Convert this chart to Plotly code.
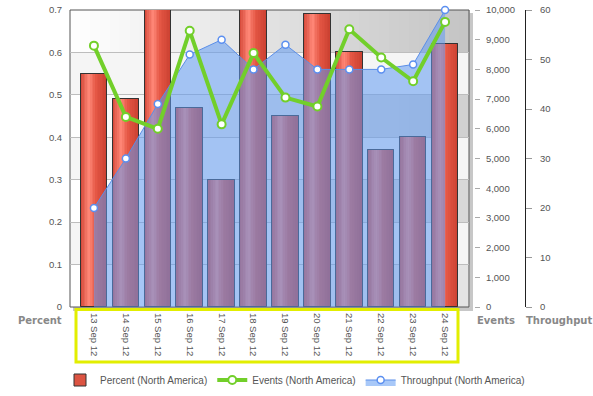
import plotly.graph_objects as go

# ---------------- data ----------------
dates = ["13 Sep 12", "14 Sep 12", "15 Sep 12", "16 Sep 12", "17 Sep 12", "18 Sep 12",
         "19 Sep 12", "20 Sep 12", "21 Sep 12", "22 Sep 12", "23 Sep 12", "24 Sep 12"]
percent = [0.55, 0.49, 0.70, 0.47, 0.30, 0.70, 0.45, 0.69, 0.60, 0.37, 0.40, 0.62]
events = [8800, 6400, 6000, 9300, 6150, 8550, 7050, 6750, 9350, 8400, 7600, 9600]
throughput = [20, 30, 41, 51, 54, 48, 53, 48, 48, 48, 49, 60]

percent_ticks = [0, 0.1, 0.2, 0.3, 0.4, 0.5, 0.6, 0.7]
events_ticks = [0, 1000, 2000, 3000, 4000, 5000, 6000, 7000, 8000, 9000, 10000]
throughput_ticks = [0, 10, 20, 30, 40, 50, 60]

# ---------------- layout geometry (pixels) ----------------
W, H = 593, 396
ML, MR, MT, MB = 70, 20, 10, 89
PW = W - ML - MR          # paper width
PH = H - MT - MB          # paper height
PLOT_RIGHT = 469
xdom = (PLOT_RIGHT - ML) / PW


def px_x(p):
    return (p - ML) / PW


def px_y(p):
    return (H - MB - p) / PH


BAR_W = 0.83
TICK_FONT = dict(family="Liberation Sans, Arial, sans-serif", size=9.5, color="#555555")
TITLE_FONT = dict(family="DejaVu Sans, Verdana, sans-serif", size=10, color="#888888")

fig = go.Figure()

# ---- Percent bars (base + horizontal gradient stripes + border) ----
fig.add_trace(go.Bar(
    x=dates, y=percent, name="Percent (North America)", width=BAR_W,
    marker=dict(color="#dc5442", line=dict(color="#333333", width=1)),
    legendrank=1, hoverinfo="skip"))

ctrl = [(0.0, (212, 70, 55)), (0.33, (255, 136, 120)), (0.6, (228, 86, 68)), (1.0, (202, 64, 48))]


def grad_color(u):
    for (u0, c0), (u1, c1) in zip(ctrl[:-1], ctrl[1:]):
        if u0 <= u <= u1:
            t = (u - u0) / (u1 - u0)
            return "rgb(%d,%d,%d)" % tuple(round(a + (b - a) * t) for a, b in zip(c0, c1))
    return "rgb(%d,%d,%d)" % ctrl[-1][1]


K = 16
sw = BAR_W / K
for i in range(K):
    u = (i + 0.5) / K
    fig.add_trace(go.Bar(
        x=dates, y=percent, width=sw * 1.08 if i < K - 1 else sw,
        offset=-BAR_W / 2 + i * sw,
        marker=dict(color=grad_color(u), line=dict(width=0)),
        showlegend=False, hoverinfo="skip"))

fig.add_trace(go.Bar(
    x=dates, y=percent, width=BAR_W,
    marker=dict(color="rgba(0,0,0,0)", line=dict(color="#333333", width=1)),
    showlegend=False, hoverinfo="skip"))

# ---- Throughput area (drawn above bars) ----
fig.add_trace(go.Scatter(
    x=dates, y=throughput, yaxis="y2", name="Throughput (North America)",
    mode="lines+markers", fill="tozeroy", fillcolor="rgba(94,153,242,0.54)",
    line=dict(color="#5a8ee8", width=1),
    marker=dict(size=7, color="white", line=dict(color="#5b8ff0", width=1.5)),
    cliponaxis=False, legendrank=3))

# ---- Events line ----
fig.add_trace(go.Scatter(
    x=dates, y=events, yaxis="y3", name="Events (North America)",
    mode="lines+markers",
    line=dict(color="#72cf2a", width=4),
    marker=dict(size=8, color="white", line=dict(color="#72cf2a", width=2)),
    cliponaxis=False, legendrank=2))

# ---------------- background bands & decoration ----------------
shapes = []
# drop shadow
shapes.append(dict(type="rect", xref="paper", yref="paper",
                   x0=px_x(ML + 3), x1=px_x(PLOT_RIGHT + 4), y0=px_y(H - MB + 4), y1=px_y(MT + 3),
                   fillcolor="rgba(0,0,0,0.22)", line=dict(width=0), layer="below"))
right_gray = {0: 228, 2: 216, 4: 208, 6: 196}
N = 40
for k in range(7):
    y0, y1 = k * 0.1, (k + 1) * 0.1
    if k in right_gray:
        g = right_gray[k]
        for j in range(N):
            t = (j + 0.5) / N
            c = round(255 - (255 - g) * t)
            shapes.append(dict(type="rect", xref="x domain", yref="y",
                               x0=j / N, x1=(j + 1) / N + 0.002, y0=y0, y1=y1,
                               fillcolor="rgb(%d,%d,%d)" % (c, c, c), line=dict(width=0), layer="below"))
    else:
        shapes.append(dict(type="rect", xref="x domain", yref="y", x0=0, x1=1, y0=y0, y1=y1,
                           fillcolor="#f5f5f5", line=dict(width=0), layer="below"))
# plot border
shapes.append(dict(type="rect", xref="x domain", yref="y domain", x0=0, x1=1, y0=0, y1=1,
                   line=dict(color="#555555", width=1), layer="below"))
# yellow highlight around category labels
shapes.append(dict(type="rect", xref="paper", yref="paper",
                   x0=px_x(76), x1=px_x(458), y0=px_y(362), y1=px_y(309.5),
                   line=dict(color="#e2ee00", width=3), layer="above"))

annotations = [
    dict(text="<b>Percent</b>", xref="paper", yref="paper", x=px_x(64), y=px_y(320),
         xanchor="right", yanchor="middle", showarrow=False, font=TITLE_FONT),
    dict(text="<b>Events</b>", xref="paper", yref="paper", x=px_x(475), y=px_y(320),
         xanchor="left", yanchor="middle", showarrow=False, font=TITLE_FONT),
    dict(text="<b>Throughput</b>", xref="paper", yref="paper", x=px_x(524), y=px_y(320),
         xanchor="left", yanchor="middle", showarrow=False, font=TITLE_FONT),
]

fig.update_layout(
    width=W, height=H,
    margin=dict(l=ML, r=MR, t=MT, b=MB, autoexpand=False),
    paper_bgcolor="white", plot_bgcolor="white",
    barmode="overlay", bargap=0,
    showlegend=True,
    legend=dict(orientation="h", x=px_x(295), xanchor="center", y=px_y(380), yanchor="middle",
                font=dict(family="Liberation Sans, Arial, sans-serif", size=10, color="#555555"),
                itemwidth=30, bgcolor="rgba(0,0,0,0)", tracegroupgap=0),
    xaxis=dict(type="category", categoryorder="array", categoryarray=dates,
               domain=[0, xdom], range=[-0.75, len(dates) - 0.25],
               showgrid=False, zeroline=False, showline=False,
               ticks="outside", ticklen=3, tickcolor="rgba(0,0,0,0)",
               tickangle=90, tickfont=TICK_FONT, automargin=False, fixedrange=True),
    yaxis=dict(range=[0, 0.7], tickvals=percent_ticks, ticktext=[("%g" % v) for v in percent_ticks],
               showgrid=True, gridcolor="#bdbdbd", gridwidth=1, zeroline=False,
               showline=False, ticks="outside", ticklen=5, tickcolor="rgba(0,0,0,0)",
               tickfont=TICK_FONT, automargin=False),
    yaxis2=dict(overlaying="y", side="right", anchor="free", position=px_x(525),
                range=[0, 60], tickvals=throughput_ticks,
                showgrid=False, zeroline=False, showline=True, linecolor="#222222", linewidth=1,
                ticks="outside", ticklen=6, tickcolor="#999999", ticklabelstandoff=6,
                tickfont=TICK_FONT, automargin=False),
    yaxis3=dict(overlaying="y", side="right", anchor="free", position=px_x(474),
                range=[0, 10000], tickvals=events_ticks, tickformat=",",
                showgrid=False, zeroline=False, showline=False,
                ticks="outside", ticklen=5, tickcolor="#aaaaaa", ticklabelstandoff=4,
                tickfont=TICK_FONT, automargin=False),
    shapes=shapes,
    annotations=annotations,
)

fig.write_html("out.html", config={"displayModeBar": False},
               post_script="document.body.style.margin='0px';document.body.style.overflow='hidden';")
